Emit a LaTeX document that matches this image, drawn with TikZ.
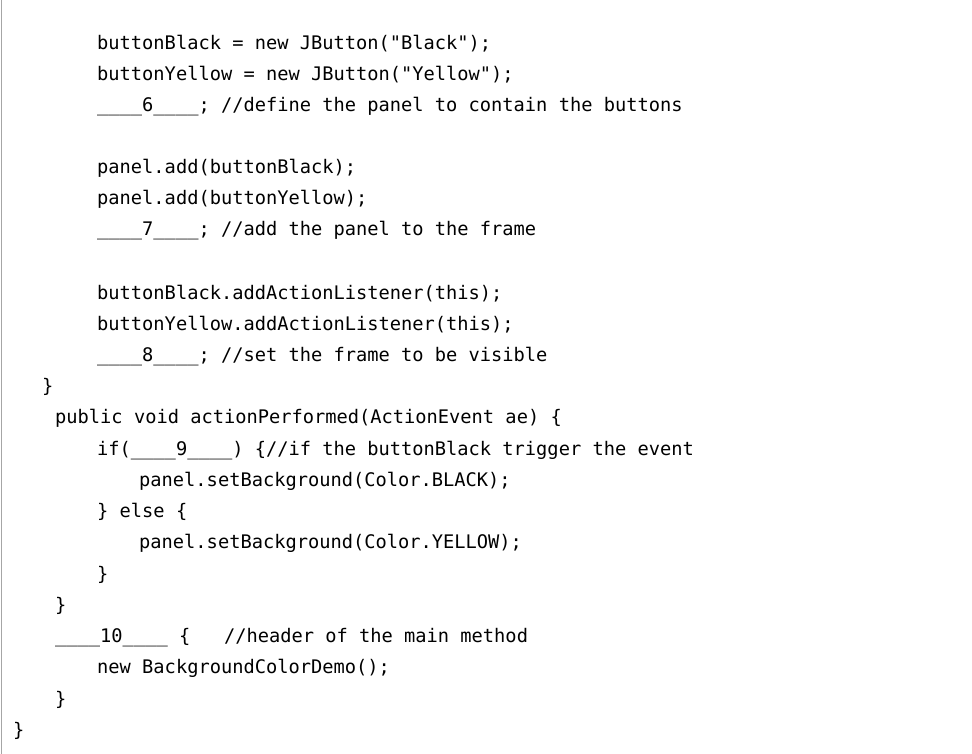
\documentclass[tikz,border=0pt]{standalone}
\usepackage{fontspec}
\newfontfamily\code{DejaVu Sans Mono}
\begin{document}
\begin{tikzpicture}[x=1pt,y=-1pt,
  ln/.style={anchor=base west,inner sep=0pt,font=\code\fontsize{18.7}{20}\selectfont}]
\useasboundingbox[fill=white] (0,0) rectangle (972,754);
\draw[gray!70,line width=1pt] (1.5,0) -- (1.5,754);
\node[ln] (l1) at (97,50) {buttonBlack = new JButton("Black");};
\node[ln] (l2) at (97,81) {buttonYellow = new JButton("Yellow");};
\node[ln] (l3) at (97,112) {\_\_\_\_6\_\_\_\_; //define the panel to contain the buttons};
\node[ln] (l4) at (97,174) {panel.add(buttonBlack);};
\node[ln] (l5) at (97,205) {panel.add(buttonYellow);};
\node[ln] (l6) at (97,236) {\_\_\_\_7\_\_\_\_; //add the panel to the frame};
\node[ln] (l7) at (97,299) {buttonBlack.addActionListener(this);};
\node[ln] (l8) at (97,330) {buttonYellow.addActionListener(this);};
\node[ln] (l9) at (97,361) {\_\_\_\_8\_\_\_\_; //set the frame to be visible};
\node[ln] (l10) at (42,392) {\}};
\node[ln] (l11) at (55,423) {public void actionPerformed(ActionEvent ae) \{};
\node[ln] (l12) at (97,455) {if(\_\_\_\_9\_\_\_\_) \{//if the buttonBlack trigger the event};
\node[ln] (l13) at (139,486) {panel.setBackground(Color.BLACK);};
\node[ln] (l14) at (97,517) {\} else \{};
\node[ln] (l15) at (139,548) {panel.setBackground(Color.YELLOW);};
\node[ln] (l16) at (97,580) {\}};
\node[ln] (l17) at (55,611) {\}};
\node[ln] (l18) at (55,642) {\_\_\_\_10\_\_\_\_ \{\ \ \ //header of the main method};
\node[ln] (l19) at (97,673) {new BackgroundColorDemo();};
\node[ln] (l20) at (55,705) {\}};
\node[ln] (l21) at (13,736) {\}};
\end{tikzpicture}
\end{document}
